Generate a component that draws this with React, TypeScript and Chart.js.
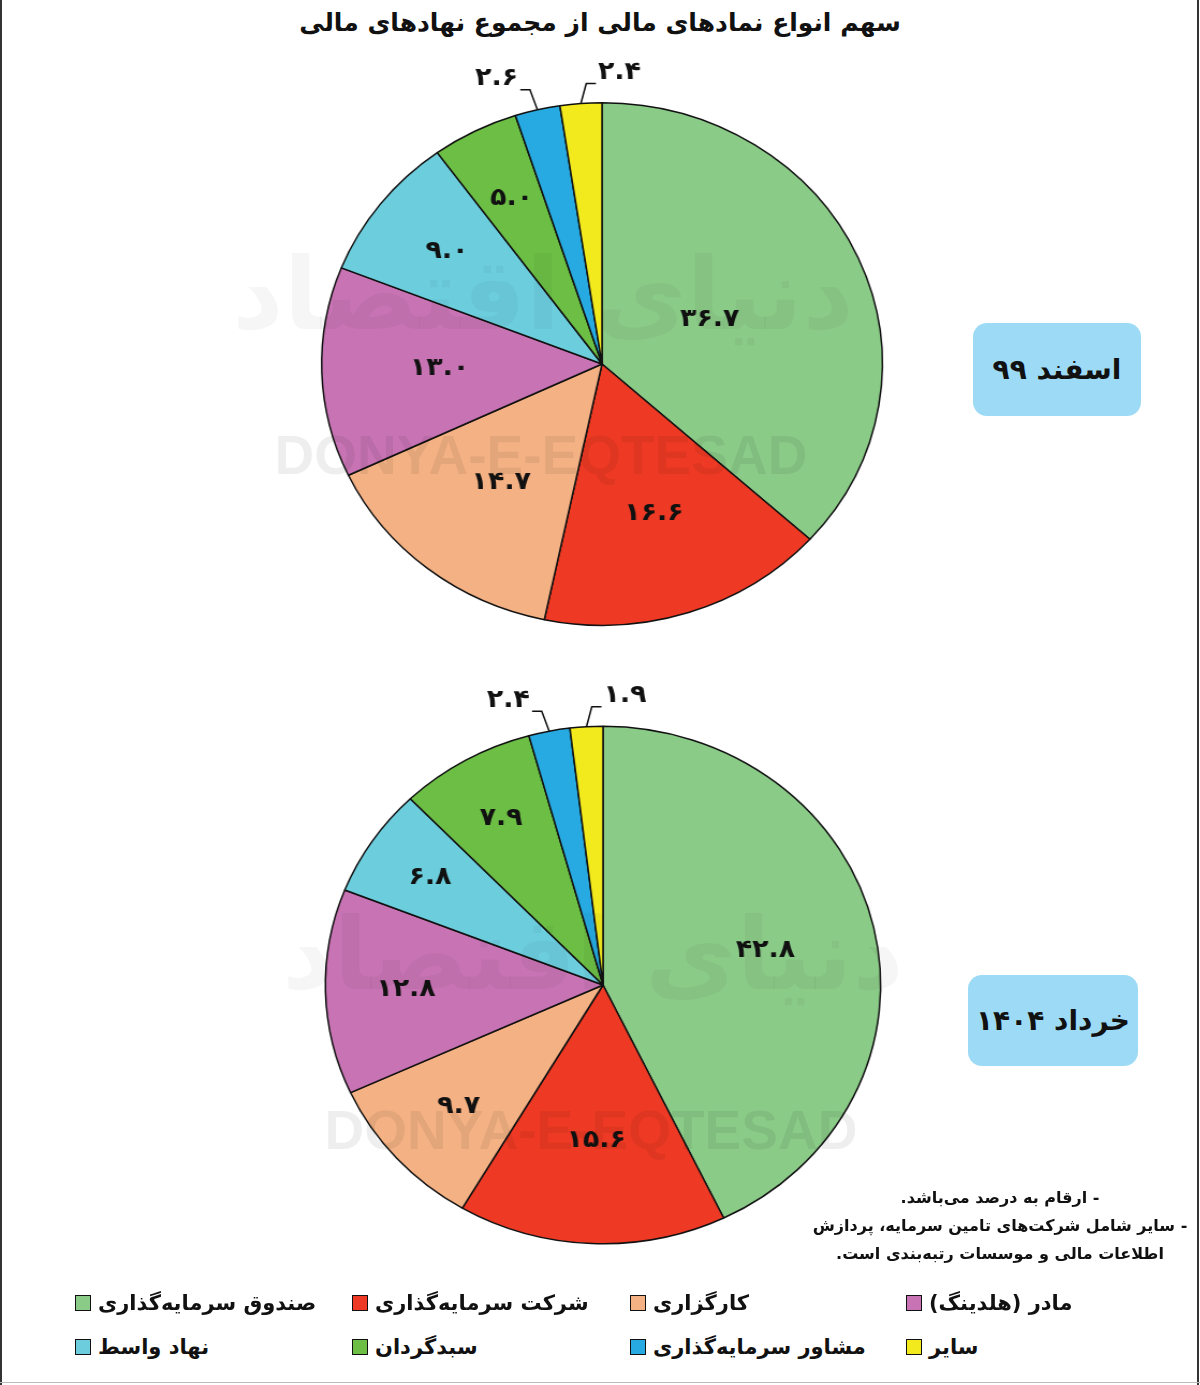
import React, { useEffect, useRef } from "react";
import { Chart, registerables } from "chart.js";

Chart.register(...registerables);

const categories = [
  "صندوق سرمایه‌گذاری",
  "شرکت سرمایه‌گذاری",
  "کارگزاری",
  "مادر (هلدینگ)",
  "نهاد واسط",
  "سبدگردان",
  "مشاور سرمایه‌گذاری",
  "سایر",
];
const valuesEsfand99 = [36.7, 16.6, 14.7, 13.0, 9.0, 5.0, 2.6, 2.4];
const valuesKhordad1404 = [42.8, 15.6, 9.7, 12.8, 6.8, 7.9, 2.4, 1.9];
const sliceColors = ["#8BCB88", "#EE3A24", "#F4B183", "#C874B4", "#6CCDDD", "#6CBE45", "#27AAE1", "#F2EA1C"];
const periodLabels = ["اسفند ۹۹", "خرداد ۱۴۰۴"];
const titleText = "سهم انواع نمادهای مالی از مجموع نهادهای مالی";
const noteLines = [
  "- ارقام به درصد می‌باشد.",
  "- سایر شامل شرکت‌های تامین سرمایه، پردازش",
  "اطلاعات مالی و موسسات رتبه‌بندی است.",
];

// label placement (fraction of radius) for inside labels
const labelRadius1 = [0.42, 0.6, 0.58, 0.58, 0.7, 0.71, 0, 0];
const labelRadius2 = [0.6, 0.6, 0.7, 0.71, 0.75, 0.74, 0, 0];

const FONT = "'DejaVu Sans', 'Noto Sans', sans-serif";
const SX = 1.073;

function toFa(v: number): string {
  const d = "۰۱۲۳۴۵۶۷۸۹";
  return v.toFixed(1).replace(/[0-9]/g, (c) => d[+c]);
}

function makeLabelPlugin(radii: number[]) {
  return {
    id: "sliceLabels",
    afterDatasetsDraw(chart: any) {
      const ctx = chart.ctx;
      const meta = chart.getDatasetMeta(0);
      const data = chart.data.datasets[0].data as number[];
      const n = data.length;
      ctx.save();
      ctx.fillStyle = "#111";
      ctx.font = `bold 25px ${FONT}`;
      ctx.textBaseline = "middle";
      meta.data.forEach((arc: any, i: number) => {
        const p = arc.getProps(["x", "y", "startAngle", "endAngle", "outerRadius"], true);
        const mid = (p.startAngle + p.endAngle) / 2;
        const txt = toFa(data[i]);
        if (i < n - 2) {
          const r = p.outerRadius * radii[i];
          ctx.textAlign = "center";
          ctx.fillText(txt, p.x + r * Math.cos(mid), p.y + r * Math.sin(mid));
        } else {
          const ex = p.x + p.outerRadius * Math.cos(mid);
          const ey = p.y + p.outerRadius * Math.sin(mid);
          const left = i === n - 2;
          const elx = ex + (left ? -7 : 5);
          const ely = ey - 20;
          const hx = elx + (left ? -9 : 9);
          ctx.strokeStyle = "#111";
          ctx.lineWidth = 1.5;
          ctx.beginPath();
          ctx.moveTo(ex, ey);
          ctx.lineTo(elx, ely);
          ctx.lineTo(hx, ely);
          ctx.stroke();
          ctx.textAlign = left ? "right" : "left";
          ctx.fillText(txt, hx + (left ? -2 : 2), ely - 11);
        }
      });
      ctx.restore();
    },
  };
}

function PieChart({ values, radii, cx, cy, pad }: { values: number[]; radii: number[]; cx: number; cy: number; pad: number }) {
  const ref = useRef<HTMLCanvasElement | null>(null);
  useEffect(() => {
    if (!ref.current) return;
    const chart = new Chart(ref.current, {
      type: "pie",
      data: {
        labels: categories,
        datasets: [
          {
            data: values,
            backgroundColor: sliceColors,
            borderColor: "#111",
            borderWidth: 1.5,
          },
        ],
      },
      options: {
        animation: false,
        responsive: true,
        maintainAspectRatio: false,
        layout: { padding: pad },
        plugins: { legend: { display: false }, tooltip: { enabled: false } },
      },
      plugins: [makeLabelPlugin(radii)],
    });
    return () => chart.destroy();
  }, []);
  const S = 640;
  return (
    <div
      style={{
        position: "absolute",
        left: cx - S / 2,
        top: cy - S / 2,
        width: S,
        height: S,
        transform: `scaleX(${SX})`,
        transformOrigin: "50% 50%",
      }}
    >
      <canvas ref={ref} />
    </div>
  );
}

const legendCols = [75, 352, 630, 906];
const legendRows = [1303, 1347];

const faWatermark: React.CSSProperties = {
  position: "absolute",
  width: 720,
  textAlign: "center",
  direction: "rtl",
  fontSize: 100,
  fontWeight: "bold",
  lineHeight: "200px",
  whiteSpace: "nowrap",
  color: "rgba(0,0,0,0.035)",
  pointerEvents: "none",
};
const enWatermark: React.CSSProperties = {
  position: "absolute",
  width: 800,
  textAlign: "center",
  fontFamily: "'Liberation Sans', Arial, sans-serif",
  fontSize: 55,
  fontWeight: "bold",
  lineHeight: "70px",
  color: "rgba(0,0,0,0.065)",
  pointerEvents: "none",
};

export default function App() {
  return (
    <div
      style={{
        position: "absolute",
        left: 0,
        top: 0,
        width: 1200,
        height: 1385,
        background: "#fff",
        overflow: "hidden",
        fontFamily: FONT,
      }}
    >
      <div
        style={{
          position: "absolute",
          left: 0,
          top: 3,
          width: 1200,
          textAlign: "center",
          direction: "rtl",
          fontWeight: "bold",
          fontSize: 25,
          lineHeight: "40px",
          color: "#111",
        }}
      >
        {titleText}
      </div>

      <PieChart values={valuesEsfand99} radii={labelRadius1} cx={602} cy={364} pad={58} />
      <PieChart values={valuesKhordad1404} radii={labelRadius2} cx={602.5} cy={984.5} pad={60.5} />

      {/* watermarks */}
      <div style={{ ...faWatermark, left: 183, top: 195 }}>دنیای اقتصاد</div>
      <div style={{ ...faWatermark, left: 233, top: 855 }}>دنیای اقتصاد</div>
      <div style={{ ...enWatermark, left: 141, top: 420 }}>DONYA-E-EQTESAD</div>
      <div style={{ ...enWatermark, left: 191, top: 1095 }}>DONYA-E-EQTESAD</div>

      {/* period boxes */}
      {[
        { l: 973, t: 323, w: 168, h: 93 },
        { l: 968, t: 975, w: 170, h: 91 },
      ].map((b, i) => (
        <div
          key={i}
          style={{
            position: "absolute",
            left: b.l,
            top: b.t,
            width: b.w,
            height: b.h,
            background: "#9CDAF5",
            borderRadius: 14,
            display: "flex",
            alignItems: "center",
            justifyContent: "center",
            direction: "rtl",
            fontWeight: "bold",
            fontSize: 28,
            color: "#111",
          }}
        >
          {periodLabels[i]}
        </div>
      ))}

      {/* notes */}
      <div
        style={{
          position: "absolute",
          left: 800,
          top: 1184,
          width: 400,
          textAlign: "center",
          direction: "rtl",
          fontWeight: "bold",
          fontSize: 16,
          lineHeight: "28px",
          color: "#111",
        }}
      >
        {noteLines.map((s, i) => (
          <div key={i}>{s}</div>
        ))}
      </div>

      {/* legend */}
      {categories.map((c, i) => {
        const col = legendCols[i % 4];
        const row = legendRows[Math.floor(i / 4)];
        return (
          <div key={i} style={{ position: "absolute", left: col, top: row - 14, height: 28, display: "flex", alignItems: "center" }}>
            <div style={{ width: 14, height: 14, background: sliceColors[i], border: "1.5px solid #111" }} />
            <div style={{ marginLeft: 7, direction: "rtl", fontWeight: "bold", fontSize: 21, color: "#111", whiteSpace: "nowrap" }}>{c}</div>
          </div>
        );
      })}

      {/* frame */}
      <div style={{ position: "absolute", left: 0, top: 0, width: 2, height: 1385, background: "#333" }} />
      <div style={{ position: "absolute", left: 1197, top: 0, width: 2, height: 1385, background: "#333" }} />
      <div style={{ position: "absolute", left: 0, top: 1382, width: 1200, height: 1, background: "#bbb" }} />
    </div>
  );
}
